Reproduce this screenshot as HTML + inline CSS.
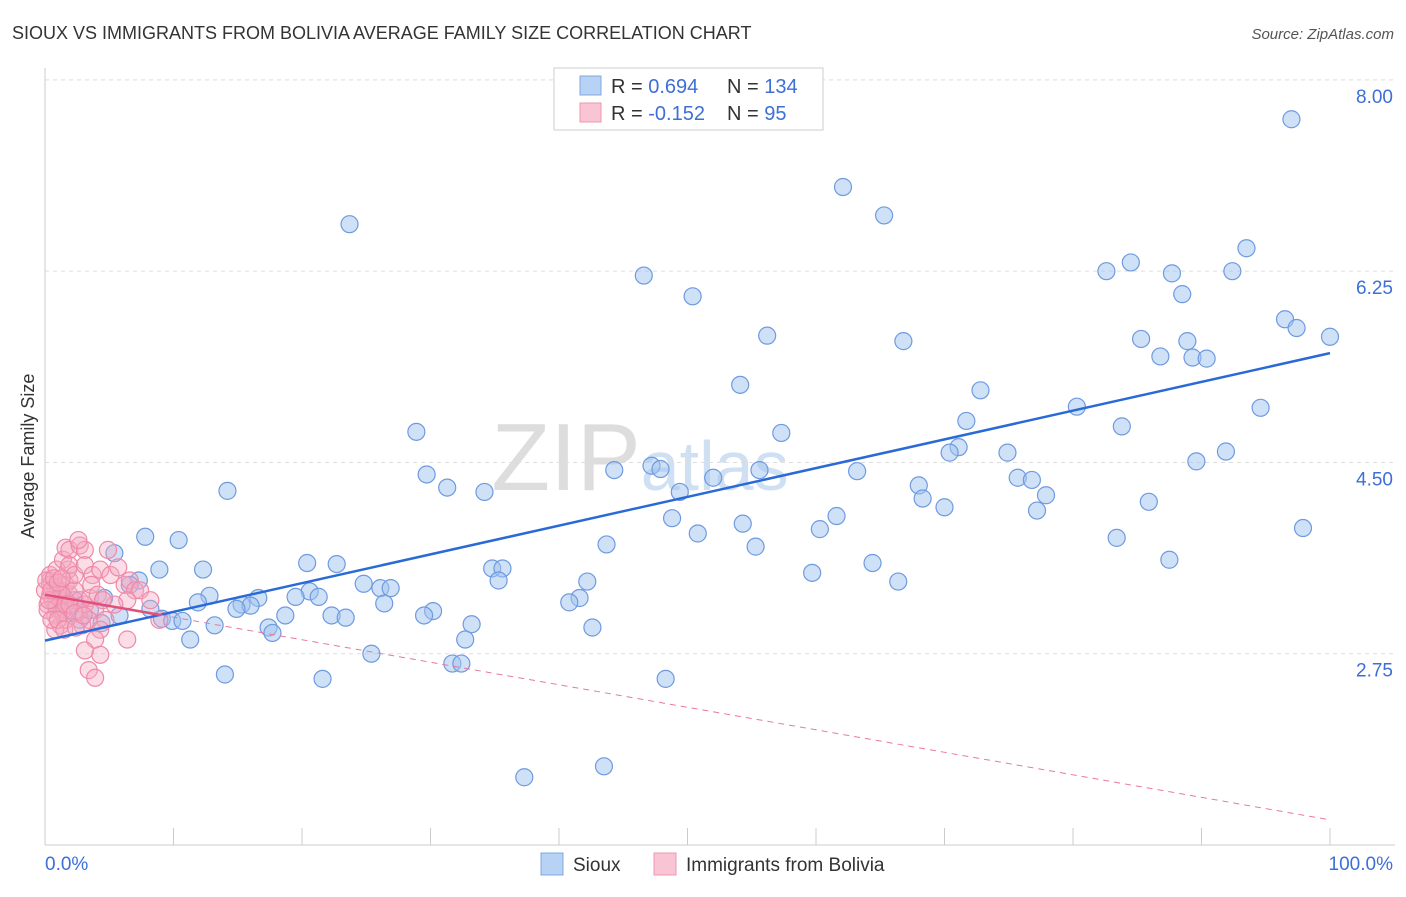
<!DOCTYPE html>
<html><head><meta charset="utf-8"><style>
body{margin:0;background:#fff;font-family:"Liberation Sans",sans-serif}
svg text{font-family:"Liberation Sans",sans-serif}
</style></head><body>
<svg id="c" width="1406" height="892" xmlns="http://www.w3.org/2000/svg">
<text x="12" y="39" font-size="18" fill="#333">SIOUX VS IMMIGRANTS FROM BOLIVIA AVERAGE FAMILY SIZE CORRELATION CHART</text>
<text x="1394" y="39" font-size="15" fill="#555" font-style="italic" text-anchor="end">Source: ZipAtlas.com</text>
<text x="640" y="490" font-size="96" fill="#ddd" font-family="Liberation Serif" text-anchor="middle">ZIP<tspan fill="#cfe0f3" font-family="Liberation Sans" font-size="70">atlas</tspan></text>
<text transform="translate(34,456) rotate(-90)" font-size="18" fill="#333" text-anchor="middle">Average Family Size</text>
<g id="grid"></g><g id="pts"></g><g id="trend"></g>
<g>
<rect x="554" y="68" width="269" height="62" fill="#fff" stroke="#ccc"/>
<rect x="580" y="76" width="21" height="19" fill="#b8d2f5" stroke="#7fa8e0"/>
<rect x="580" y="103" width="21" height="19" fill="#f9c4d3" stroke="#ee97b0"/>
<text x="611" y="93" font-size="20" fill="#333">R = <tspan fill="#3d6fd6">0.694</tspan></text>
<text x="727" y="93" font-size="20" fill="#333">N = <tspan fill="#3d6fd6">134</tspan></text>
<text x="611" y="120" font-size="20" fill="#333">R = <tspan fill="#3d6fd6">-0.152</tspan></text>
<text x="727" y="120" font-size="20" fill="#333">N = <tspan fill="#3d6fd6"> 95</tspan></text>
</g>
<g>
<rect x="541" y="853" width="22" height="22" fill="#b8d2f5" stroke="#7fa8e0"/>
<text x="573" y="871" font-size="19" fill="#333">Sioux</text>
<rect x="654" y="853" width="22" height="22" fill="#f9c4d3" stroke="#ee97b0"/>
<text x="686" y="871" font-size="19" fill="#333">Immigrants from Bolivia</text>
</g>
</svg>
<script>
const yTicks=[8.00,6.25,4.50,2.75];
const yTickLabels=["8.00","6.25","4.50","2.75"];
const xLabels=["0.0%","100.0%"];
const siouxX=[97.0,62.1,65.3,23.7,46.6,50.4,93.5,84.5,82.6,87.7,92.4,88.5,96.5,97.4,100,56.2,66.8,85.3,88.9,86.8,89.3,90.4,54.1,72.8,80.3,94.6,71.7,83.8,28.9,57.3,71.1,70.4,74.9,91.9,89.6,47.2,47.9,44.3,55.6,63.2,29.7,52.0,75.7,76.8,68.0,31.3,14.2,34.2,49.4,77.9,68.3,85.9,70.0,77.2,61.6,48.8,54.3,60.3,97.9,50.8,83.4,7.8,10.4,43.7,55.3,5.4,87.5,20.4,22.7,64.4,34.8,35.6,8.9,12.3,59.7,35.3,7.3,66.4,42.2,24.8,26.1,26.9,6.6,20.6,21.3,19.5,12.8,16.6,4.6,41.6,11.9,40.8,26.4,15.3,16.0,14.9,8.2,30.2,29.5,18.7,22.3,23.4,5.8,9.1,9.9,10.7,4.4,13.2,33.2,17.4,17.7,42.6,32.7,11.3,25.4,31.7,32.4,14.0,21.6,48.3,43.5,37.3,0.8,1.9,2.7,1.2,3.5,2.3];
const siouxY=[7.64,7.02,6.76,6.68,6.21,6.02,6.46,6.33,6.25,6.23,6.25,6.04,5.81,5.73,5.65,5.66,5.61,5.63,5.61,5.47,5.46,5.45,5.21,5.16,5.01,5.00,4.88,4.83,4.78,4.77,4.64,4.59,4.59,4.60,4.51,4.47,4.44,4.43,4.43,4.42,4.39,4.36,4.36,4.34,4.29,4.27,4.24,4.23,4.23,4.20,4.17,4.14,4.09,4.06,4.01,3.99,3.94,3.89,3.90,3.85,3.81,3.82,3.79,3.75,3.73,3.67,3.61,3.58,3.57,3.58,3.53,3.53,3.52,3.52,3.49,3.42,3.42,3.41,3.41,3.39,3.35,3.35,3.38,3.32,3.27,3.27,3.28,3.26,3.26,3.26,3.22,3.22,3.21,3.20,3.19,3.16,3.16,3.14,3.10,3.10,3.10,3.08,3.10,3.07,3.05,3.05,3.03,3.01,3.02,2.99,2.94,2.99,2.88,2.88,2.75,2.66,2.66,2.56,2.52,2.52,1.72,1.62,3.20,3.15,3.06,3.33,3.15,3.24];
const boliviaX=[0.4,0.8,1.2,0.4,1.6,1.6,1.2,0.2,0.8,1.9,1.9,1.8,2.3,2.7,2.6,3.1,3.5,3.9,3.4,2.9,1.2,0.8,1.6,0.4,0.9,1.4,1.6,1.9,2.7,3.1,2.6,1.9,2.3,3.1,3.7,4.3,5.1,5.7,4.9,6.2,6.6,7.0,7.4,6.4,5.4,4.7,4.3,3.9,4.3,3.1,3.4,3.9,6.4,8.9,8.2,1.0,1.3,0.4,0.6,0.9,1.3,1.6,1.9,2.3,0.2,0.5,1.0,1.5,2.4,3.0,3.6,4.1,4.5,0.0,0.1,0.3,0.5,0.7,1.0,1.3];
const boliviaY=[3.42,3.33,3.24,3.29,3.38,3.24,3.15,3.20,3.10,3.29,3.42,3.52,3.33,3.24,3.13,3.20,3.26,3.15,3.06,3.01,3.01,2.97,3.06,3.47,3.52,3.61,3.72,3.70,3.74,3.70,3.79,3.56,3.47,3.56,3.47,3.52,3.47,3.54,3.70,3.38,3.42,3.33,3.33,3.24,3.20,3.06,2.97,2.88,2.74,2.78,2.60,2.53,2.88,3.06,3.24,3.33,3.29,3.38,3.24,3.17,3.13,3.20,3.20,3.12,3.15,3.06,3.06,2.97,2.99,3.10,3.38,3.29,3.24,3.33,3.42,3.24,3.33,3.44,3.40,3.44];
const siouxTrend=[2.87,5.50];
const boliviaTrend=[3.29,1.23];
const NS="http://www.w3.org/2000/svg";
const X=v=>45+v*12.85, Y=v=>845-(v-1)*109.3;
function mk(t,a,p){const e=document.createElementNS(NS,t);for(const k in a)e.setAttribute(k,a[k]);p.appendChild(e);return e;}
const g=document.getElementById('grid');
const ax=mk('line',{x1:45,y1:68,x2:45,y2:845,stroke:'#ccc'},g);


const bx=mk('line',{x1:45,y1:845,x2:1395,y2:845,stroke:'#ccc'},g);


yTicks.forEach((t,i)=>{
 const l=mk('line',{x1:45,x2:1395,y1:Y(t),y2:Y(t),stroke:'#ddd','stroke-dasharray':'4,4'},g);
 
 
 const tx=mk('text',{x:1393,y:Y(t)+23,'font-size':19,fill:'#3d6fd6','text-anchor':'end'},g);
 tx.textContent=yTickLabels[i];
 
 
});
for(let i=0;i<=10;i++){
 const l=mk('line',{x1:X(i*10),x2:X(i*10),y1:828,y2:845,stroke:'#ccc'},g);
 
 
}
const x0=mk('text',{x:45,y:870,'font-size':19,fill:'#3d6fd6'},g);x0.textContent=xLabels[0];


const x1=mk('text',{x:1393,y:870,'font-size':19,fill:'#3d6fd6','text-anchor':'end'},g);x1.textContent=xLabels[1];


const p=document.getElementById('pts');
siouxX.forEach((v,i)=>{const c=mk('circle',{cx:X(v),cy:Y(siouxY[i]),r:8.5,fill:'rgba(160,195,240,0.5)',stroke:'#6f9ae0','stroke-width':1.2},p);
 
 });
boliviaX.forEach((v,i)=>{const c=mk('circle',{cx:X(v),cy:Y(boliviaY[i]),r:8.5,fill:'rgba(245,170,195,0.4)',stroke:'#ee8aa8','stroke-width':1.2},p);
 
 });
const tg=document.getElementById('trend');
const bl=mk('line',{x1:X(0),y1:Y(siouxTrend[0]),x2:X(100),y2:Y(siouxTrend[1]),stroke:'#2a6ad6','stroke-width':2.5},tg);


const pv=x=>boliviaTrend[0]+(boliviaTrend[1]-boliviaTrend[0])*x/100;
const ps=mk('line',{x1:X(0),y1:Y(pv(0)),x2:X(9),y2:Y(pv(9)),stroke:'#e0507a','stroke-width':2.5},tg);


const pd=mk('line',{x1:X(9),y1:Y(pv(9)),x2:X(100),y2:Y(pv(100)),stroke:'#e87a9a','stroke-width':1,'stroke-dasharray':'6,5'},tg);


</script>
</body></html>
